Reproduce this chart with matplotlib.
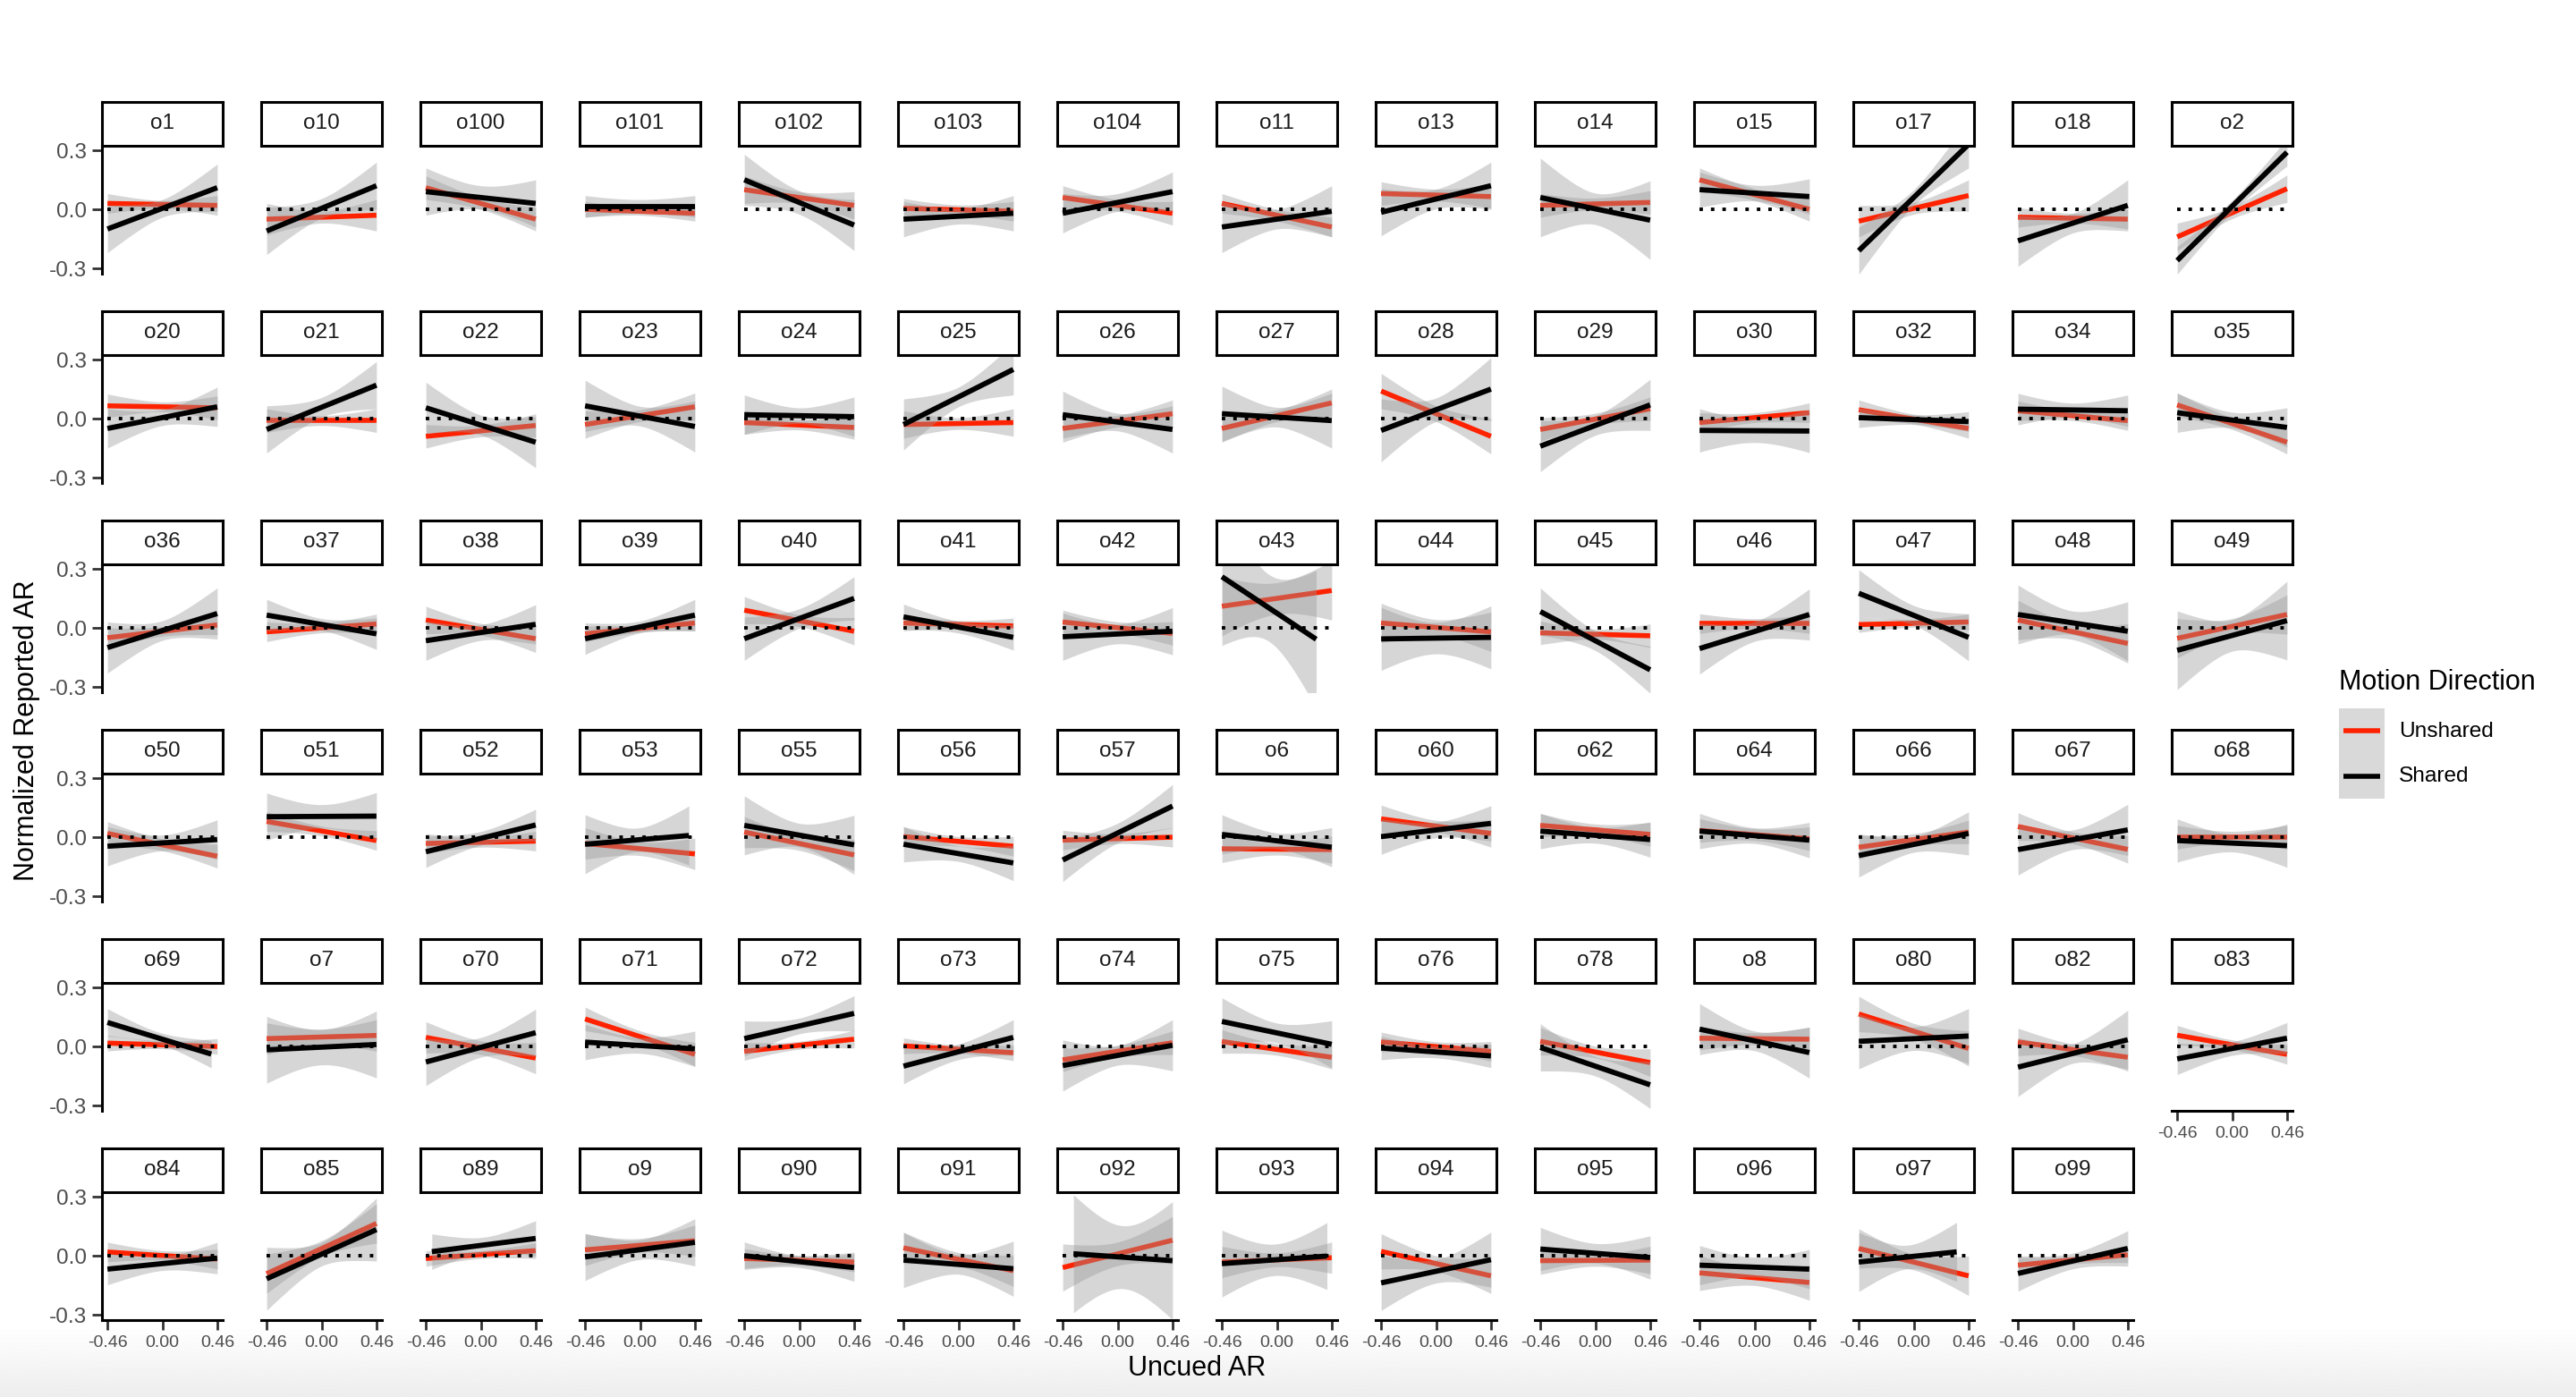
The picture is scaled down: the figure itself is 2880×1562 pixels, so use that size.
import numpy as np
import matplotlib
matplotlib.use("Agg")
import matplotlib.pyplot as plt
from matplotlib.patches import Rectangle
from matplotlib.lines import Line2D

plt.rcParams['font.family'] = ['Liberation Sans', 'DejaVu Sans']

# ---- data: fitted line ends at x=-0.46 / x=0.46 and CI half widths ----
names = ["o1", "o10", "o100", "o101", "o102", "o103", "o104", "o11", "o13", "o14", "o15", "o17", "o18", "o2",
         "o20", "o21", "o22", "o23", "o24", "o25", "o26", "o27", "o28", "o29", "o30", "o32", "o34", "o35",
         "o36", "o37", "o38", "o39", "o40", "o41", "o42", "o43", "o44", "o45", "o46", "o47", "o48", "o49",
         "o50", "o51", "o52", "o53", "o55", "o56", "o57", "o6", "o60", "o62", "o64", "o66", "o67", "o68",
         "o69", "o7", "o70", "o71", "o72", "o73", "o74", "o75", "o76", "o78", "o8", "o80", "o82", "o83",
         "o84", "o85", "o89", "o9", "o90", "o91", "o92", "o93", "o94", "o95", "o96", "o97", "o99"]

# Unshared (red)
red_left = [0.03, -0.05, 0.11, 0.00, 0.10, 0.005, 0.06, 0.03, 0.08, 0.02, 0.15, -0.06, -0.04, -0.14,
            0.065, -0.01, -0.09, -0.03, -0.02, -0.03, -0.05, -0.05, 0.14, -0.055, -0.02, 0.045, 0.04, 0.07,
            -0.05, -0.02, 0.04, -0.03, 0.09, 0.025, 0.03, 0.11, 0.025, -0.025, 0.022, 0.017, 0.04, -0.053,
            0.019, 0.08, -0.032, -0.032, 0.026, 0.003, -0.015, -0.059, 0.093, 0.06, 0.034, -0.051, 0.054, 0.0,
            0.017, 0.04, 0.046, 0.14, -0.025, 0.003, -0.068, 0.025, 0.023, 0.026, 0.042, 0.165, 0.023, 0.057,
            0.019, -0.091, -0.014, 0.03, -0.014, 0.04, -0.06, -0.032, 0.022, -0.025, -0.087, 0.037, -0.048]
red_right = [0.02, -0.03, -0.05, -0.02, 0.02, -0.01, -0.02, -0.09, 0.065, 0.035, 0.0, 0.07, -0.05, 0.105,
             0.055, -0.01, -0.035, 0.06, -0.045, -0.02, 0.025, 0.08, -0.09, 0.05, 0.03, -0.05, -0.01, -0.12,
             0.015, 0.02, -0.055, 0.025, -0.017, 0.01, -0.028, 0.19, -0.02, -0.04, 0.022, 0.03, -0.079, 0.068,
             -0.097, -0.017, -0.02, -0.085, -0.09, -0.046, 0.0, -0.063, 0.019, 0.014, -0.008, 0.026, -0.062, 0.0,
             0.0, 0.056, -0.059, -0.04, 0.037, -0.032, 0.019, -0.055, -0.025, -0.082, 0.037, -0.01, -0.055, -0.04,
             -0.017, 0.164, 0.026, 0.076, -0.032, -0.076, 0.079, -0.01, -0.102, -0.022, -0.136, -0.102, 0.005]
red_ci_edge = [0.05, 0.08, 0.06, 0.04, 0.07, 0.05, 0.06, 0.05, 0.06, 0.06, 0.06, 0.08, 0.05, 0.07,
               0.06, 0.06, 0.06, 0.07, 0.06, 0.07, 0.07, 0.07, 0.09, 0.06, 0.05, 0.05, 0.05, 0.06,
               0.05, 0.05, 0.07, 0.04, 0.07, 0.04, 0.06, 0.15, 0.10, 0.06, 0.05, 0.04, 0.10, 0.10,
               0.06, 0.05, 0.05, 0.08, 0.08, 0.05, 0.05, 0.07, 0.07, 0.06, 0.06, 0.06, 0.07, 0.06,
               0.04, 0.08, 0.08, 0.06, 0.045, 0.04, 0.06, 0.06, 0.05, 0.07, 0.06, 0.09, 0.07, 0.05,
               0.05, 0.10, 0.04, 0.08, 0.05, 0.08, 0.12, 0.08, 0.09, 0.07, 0.09, 0.10, 0.04]
red_ci_mid = [0.02, 0.03, 0.03, 0.02, 0.03, 0.025, 0.03, 0.03, 0.03, 0.03, 0.03, 0.03, 0.025, 0.03,
              0.025, 0.025, 0.03, 0.03, 0.025, 0.03, 0.03, 0.03, 0.04, 0.03, 0.025, 0.025, 0.025, 0.03,
              0.025, 0.025, 0.03, 0.02, 0.03, 0.02, 0.03, 0.08, 0.04, 0.025, 0.025, 0.02, 0.04, 0.04,
              0.03, 0.025, 0.025, 0.035, 0.035, 0.025, 0.025, 0.03, 0.03, 0.03, 0.03, 0.03, 0.03, 0.03,
              0.02, 0.04, 0.035, 0.03, 0.02, 0.02, 0.03, 0.03, 0.025, 0.03, 0.03, 0.04, 0.03, 0.025,
              0.025, 0.04, 0.02, 0.035, 0.025, 0.035, 0.06, 0.035, 0.04, 0.03, 0.04, 0.04, 0.02]

# Shared (black)
blk_left = [-0.10, -0.11, 0.09, 0.015, 0.15, -0.05, -0.02, -0.09, -0.015, 0.06, 0.10, -0.21, -0.16, -0.26,
            -0.05, -0.055, 0.055, 0.065, 0.02, -0.03, 0.02, 0.025, -0.06, -0.14, -0.06, 0.005, 0.048, 0.03,
            -0.10, 0.065, -0.065, -0.055, -0.055, 0.056, -0.045, 0.26, -0.056, 0.083, -0.105, 0.176, 0.068, -0.114,
            -0.046, 0.104, -0.074, -0.036, 0.06, -0.036, -0.116, 0.014, 0.003, 0.031, 0.031, -0.093, -0.063, -0.017,
            0.122, -0.017, -0.079, 0.022, 0.04, -0.10, -0.097, 0.127, -0.008, -0.005, 0.088, 0.026, -0.105, -0.063,
            -0.068, -0.117, 0.017, -0.006, 0.0, -0.022, 0.014, -0.04, -0.138, 0.034, -0.048, -0.032, -0.09]
blk_right = [0.11, 0.12, 0.03, 0.015, -0.08, -0.02, 0.09, -0.01, 0.12, -0.055, 0.065, 0.33, 0.02, 0.29,
             0.06, 0.17, -0.12, -0.04, 0.01, 0.25, -0.055, -0.01, 0.15, 0.07, -0.063, -0.015, 0.04, -0.045,
             0.073, -0.03, 0.018, 0.065, 0.15, -0.048, -0.017, -0.11, -0.048, -0.213, 0.068, -0.048, -0.017, 0.037,
             -0.012, 0.107, 0.062, 0.011, -0.039, -0.131, 0.158, -0.051, 0.07, -0.012, -0.015, 0.019, 0.037, -0.043,
             -0.048, 0.01, 0.07, -0.012, 0.168, 0.046, 0.006, 0.011, -0.048, -0.195, -0.031, 0.053, 0.034, 0.042,
             -0.012, 0.133, 0.088, 0.068, -0.06, -0.066, -0.025, 0.0, -0.02, -0.009, -0.068, 0.026, 0.037]
blk_ci_edge = [0.12, 0.12, 0.12, 0.055, 0.13, 0.09, 0.10, 0.13, 0.12, 0.20, 0.09, 0.12, 0.13, 0.07,
               0.10, 0.12, 0.13, 0.13, 0.10, 0.13, 0.12, 0.14, 0.16, 0.13, 0.11, 0.05, 0.08, 0.10,
               0.13, 0.08, 0.10, 0.08, 0.11, 0.065, 0.12, 0.35, 0.16, 0.12, 0.13, 0.12, 0.15, 0.20,
               0.10, 0.12, 0.08, 0.15, 0.15, 0.09, 0.11, 0.10, 0.09, 0.09, 0.09, 0.11, 0.13, 0.11,
               0.07, 0.17, 0.12, 0.09, 0.09, 0.09, 0.13, 0.12, 0.06, 0.12, 0.13, 0.14, 0.15, 0.08,
               0.08, 0.16, 0.09, 0.12, 0.07, 0.14, 0.30, 0.17, 0.14, 0.11, 0.10, 0.15, 0.09]
blk_ci_mid = [0.045, 0.05, 0.06, 0.035, 0.06, 0.04, 0.045, 0.05, 0.05, 0.08, 0.04, 0.04, 0.05, 0.03,
              0.04, 0.05, 0.05, 0.05, 0.04, 0.05, 0.045, 0.05, 0.06, 0.05, 0.06, 0.025, 0.035, 0.04,
              0.05, 0.03, 0.04, 0.03, 0.05, 0.03, 0.05, 0.17, 0.08, 0.05, 0.05, 0.05, 0.06, 0.08,
              0.04, 0.06, 0.035, 0.06, 0.06, 0.04, 0.05, 0.04, 0.04, 0.04, 0.04, 0.04, 0.05, 0.045,
              0.03, 0.09, 0.05, 0.04, 0.04, 0.04, 0.05, 0.05, 0.03, 0.05, 0.05, 0.06, 0.05, 0.035,
              0.035, 0.06, 0.04, 0.05, 0.03, 0.05, 0.16, 0.08, 0.06, 0.05, 0.05, 0.06, 0.04]

# Shared fits whose data did not span the full Uncued AR range
blk_x_range = {"o43": (-0.46, 0.33), "o53": (-0.46, 0.41), "o69": (-0.46, 0.41), "o89": (-0.41, 0.46),
               "o92": (-0.37, 0.46), "o93": (-0.46, 0.42), "o97": (-0.46, 0.36)}

x_ticks = [-0.46, 0.0, 0.46]
x_tick_labels = ["-0.46", "0.00", "0.46"]
y_ticks = [-0.3, 0.0, 0.3]
y_tick_labels = ["-0.3", "0.0", "0.3"]
legend_labels = ["Unshared", "Shared"]

RED = "#ff2200"
RIBBON = "#999999"
W, H = 2880, 1562
ncol = 14


def ci_band(x0, x1, y0, y1, edge, mid, npts=80):
    xs = np.linspace(x0, x1, npts)
    t = (xs - (x0 + x1) / 2) / ((x1 - x0) / 2)
    ys = y0 + (y1 - y0) * (xs - x0) / (x1 - x0)
    hw = np.sqrt(mid ** 2 + (edge ** 2 - mid ** 2) * t ** 2)
    return xs, ys, hw


def fx(px):
    return px / W


def fy(py):
    return 1 - py / H


fig = plt.figure(figsize=(W / 200, H / 200), dpi=200)

# soft screenshot shadow along the bottom edge
shade = fig.add_axes([0, 0, 1, 80 / H], zorder=-5)
grad = np.linspace(0.93, 1.0, 100)[:, None] * np.ones((1, 10))
shade.imshow(grad, cmap="gray", vmin=0, vmax=1, aspect="auto", origin="lower", extent=[0, 1, 0, 1])
shade.axis("off")

for i, name in enumerate(names):
    r, c = divmod(i, ncol)
    left = fx(114 + 178 * c)
    pw = 135 / W
    ptop = 163 + 234 * r
    ph = 143
    ax = fig.add_axes([left, fy(ptop + ph), pw, ph / H])
    st = fig.add_axes([left, fy(114 + 234 * r + 49), pw, 49 / H])
    st.set_xticks([])
    st.set_yticks([])
    for sp in st.spines.values():
        sp.set_linewidth(1.1)
        sp.set_color("black")
    st.text(0.5, 0.5, name, ha="center", va="center", fontsize=8.8, color="#1a1a1a", transform=st.transAxes)

    # Unshared
    xs, ys, hw = ci_band(x_ticks[0], x_ticks[-1], red_left[i], red_right[i], red_ci_edge[i], red_ci_mid[i])
    ax.fill_between(xs, ys - hw, ys + hw, color=RIBBON, alpha=0.4, lw=0, zorder=1)
    ax.plot(xs, ys, color=RED, lw=2.0, solid_capstyle="butt", zorder=2)
    # Shared
    bx0, bx1 = blk_x_range.get(name, (x_ticks[0], x_ticks[-1]))
    line_at = lambda v: blk_left[i] + (blk_right[i] - blk_left[i]) * (v - x_ticks[0]) / (x_ticks[-1] - x_ticks[0])
    xs, ys, hw = ci_band(bx0, bx1, line_at(bx0), line_at(bx1), blk_ci_edge[i], blk_ci_mid[i])
    ax.fill_between(xs, ys - hw, ys + hw, color=RIBBON, alpha=0.4, lw=0, zorder=3)
    ax.plot(xs, ys, color="black", lw=2.1, solid_capstyle="butt", zorder=4)

    ax.plot([x_ticks[0], x_ticks[-1]], [0, 0], color="black", lw=1.4, linestyle=(0, (1, 2.3)),
            dash_capstyle="butt", zorder=5)

    ax.set_xlim(-0.506, 0.506)
    ax.set_ylim(-0.327, 0.323)
    ax.set_facecolor("none")
    for sp in ["top", "right"]:
        ax.spines[sp].set_visible(False)

    bottom_panel = (r == 5) or (r == 4 and c == 13)
    ax.tick_params(colors="#333333", length=4, width=1.0, labelcolor="#4d4d4d")
    if c == 0:
        ax.spines["left"].set_linewidth(1.1)
        ax.set_yticks(y_ticks)
        ax.set_yticklabels(y_tick_labels, fontsize=8.8)
        ax.tick_params(axis="y", pad=2)
    else:
        ax.spines["left"].set_visible(False)
        ax.set_yticks([])
    if bottom_panel:
        ax.spines["bottom"].set_linewidth(1.1)
        ax.set_xticks(x_ticks)
        ax.set_xticklabels(x_tick_labels, fontsize=7)
        ax.tick_params(axis="x", pad=2)
    else:
        ax.spines["bottom"].set_visible(False)
        ax.set_xticks([])

fig.text(fx(1338), fy(1530), "Uncued AR", ha="center", va="center", fontsize=11)
fig.text(fx(30), fy(817), "Normalized Reported AR", ha="center", va="center", rotation=90, fontsize=11)

# legend, drawn by hand so the keys are square ggplot-style boxes
fig.text(fx(2615), fy(763), "Motion Direction", ha="left", va="center", fontsize=11)
for k, (lab, col) in enumerate(zip(legend_labels, [RED, "black"])):
    top = 792 + 50.5 * k
    fig.add_artist(Rectangle((fx(2615), fy(top + 50.5)), 51 / W, 50.5 / H, transform=fig.transFigure,
                             facecolor="#d9d9d9", edgecolor="none"))
    fig.add_artist(Line2D([fx(2620), fx(2661)], [fy(top + 25), fy(top + 25)], transform=fig.transFigure,
                          color=col, lw=2.0, solid_capstyle="butt"))
    fig.text(fx(2682), fy(top + 26), lab, ha="left", va="center", fontsize=8.8)

fig.savefig("out.png", dpi=200, facecolor="white")
